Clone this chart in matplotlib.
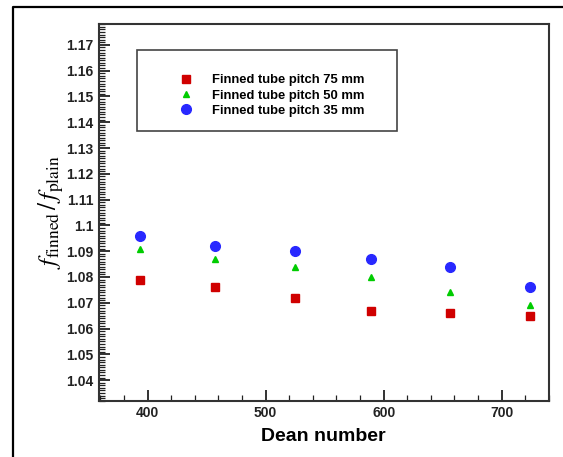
import numpy as np
import matplotlib
matplotlib.use('Agg')
import matplotlib.pyplot as plt
from matplotlib.patches import Rectangle
from matplotlib.lines import Line2D
from matplotlib.ticker import MultipleLocator

plt.rcParams['font.family'] = ['Liberation Sans', 'DejaVu Sans']
plt.rcParams['mathtext.fontset'] = 'stix'

dean = [394, 457, 525, 589, 656, 724]
pitch75 = [1.079, 1.076, 1.072, 1.067, 1.066, 1.065]
pitch50 = [1.091, 1.087, 1.084, 1.080, 1.074, 1.069]
pitch35 = [1.096, 1.092, 1.090, 1.087, 1.084, 1.076]
labels = ['Finned tube pitch 75 mm', 'Finned tube pitch 50 mm', 'Finned tube pitch 35 mm']

fig = plt.figure(figsize=(5.63, 4.57), dpi=100)
ax = fig.add_axes([0.175, 0.123, 0.8, 0.824])

ax.plot(dean, pitch75, 's', color='#d00000', ms=5.5, mec='#d00000', label=labels[0])
ax.plot(dean, pitch50, '^', color='#00cc00', ms=5, mec='#00cc00', label=labels[1])
ax.plot(dean, pitch35, 'o', color='#2828ff', ms=7, mec='#2828ff', label=labels[2])

ax.set_xlim(358.5, 740)
ax.set_ylim(1.032, 1.178)
ax.xaxis.set_major_locator(MultipleLocator(100))
ax.xaxis.set_minor_locator(MultipleLocator(20))
ax.yaxis.set_minor_locator(MultipleLocator(0.001))
ax.yaxis.set_major_formatter(matplotlib.ticker.FuncFormatter(lambda v, p: ('%.2f' % v).rstrip('0')))
ax.set_yticks(np.arange(1.04, 1.175, 0.01))

ax.tick_params(which='both', direction='in', top=False, right=False, colors='#222222',
               labelsize=10)
ax.tick_params(which='major', length=8, width=1.3)
ax.tick_params(which='minor', length=4, width=0.9)
for lab in ax.get_xticklabels() + ax.get_yticklabels():
    lab.set_fontweight('bold')
    lab.set_color('#222222')
for s in ax.spines.values():
    s.set_linewidth(1.5)
    s.set_color('#333333')

ax.set_xlabel('Dean number', fontsize=14, fontweight='bold', labelpad=6)
ax.set_ylabel(r'$\mathbf{\mathit{f}}_{\rm finned}\,/\,\mathbf{\mathit{f}}_{\rm plain}$',
              fontsize=18, labelpad=0)

# legend box
ax.add_patch(Rectangle((0.085, 0.716), 0.578, 0.215, transform=ax.transAxes,
                       fill=False, ec='#444444', lw=1.2, zorder=5))
ax.legend(loc='upper left', bbox_to_anchor=(0.15, 0.885), frameon=False,
          handletextpad=1.0, labelspacing=0.25, borderpad=0,
          prop={'weight': 'bold', 'size': 9.4})

# outer frame (only left and top edges are inside the picture)
fx = 12.5 / 563
fy = 1 - 7 / 457
fig.add_artist(Line2D([fx, fx, 1.0], [0.0, fy, fy], transform=fig.transFigure,
                      color='black', lw=1.6))

fig.savefig('out.png', dpi=100)
